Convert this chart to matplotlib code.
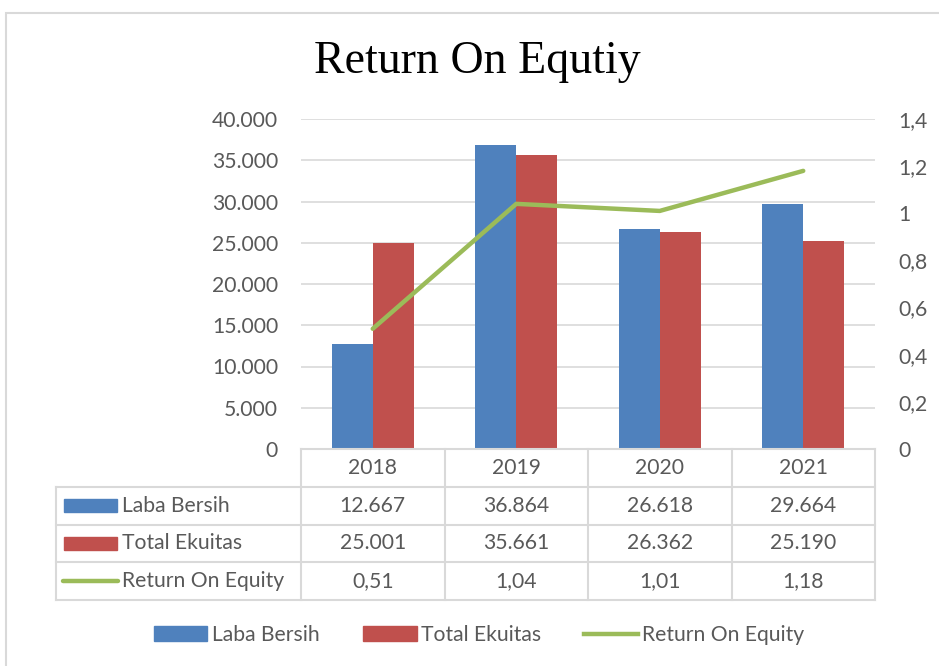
import matplotlib
matplotlib.use("Agg")
import matplotlib.pyplot as plt
from matplotlib.patches import Rectangle
from matplotlib.lines import Line2D
import numpy as np

years = ["2018", "2019", "2020", "2021"]
laba_bersih = [12667, 36864, 26618, 29664]
total_ekuitas = [25001, 35661, 26362, 25190]
roe = [0.51, 1.04, 1.01, 1.18]
laba_labels = ["12.667", "36.864", "26.618", "29.664"]
ekuitas_labels = ["25.001", "35.661", "26.362", "25.190"]
roe_labels = ["0,51", "1,04", "1,01", "1,18"]
left_ticks = [0, 5000, 10000, 15000, 20000, 25000, 30000, 35000, 40000]
left_tick_labels = ["0", "5.000", "10.000", "15.000", "20.000", "25.000", "30.000", "35.000", "40.000"]
right_ticks = [0, 0.2, 0.4, 0.6, 0.8, 1.0, 1.2, 1.4]
right_tick_labels = ["0", "0,2", "0,4", "0,6", "0,8", "1", "1,2", "1,4"]
series_names = ["Laba Bersih", "Total Ekuitas", "Return On Equity"]

BLUE = "#4F81BD"
RED = "#C0504D"
GREEN = "#9BBB59"
TXT = "#595959"
GRID = "#D9D9D9"
FONT = "Lato"
FS = 15.2

W, H = 939, 666
fig = plt.figure(figsize=(W / 100, H / 100), dpi=100)

def px_axes(x0, y0, x1, y1):
    return fig.add_axes([x0 / W, 1 - y1 / H, (x1 - x0) / W, (y1 - y0) / H])

# outer frame (right and bottom edges fall outside the image)
fig.patches.append(Rectangle((6 / W, -0.2), 1.2, 1.2 - 13 / H, transform=fig.transFigure,
                             fill=False, edgecolor=GRID, lw=1.5))

# main plot
ax = px_axes(301, 119, 875, 449)
x = np.arange(len(years))
bw = 0.286
ax.bar(x - bw / 2, laba_bersih, bw, color=BLUE, zorder=3)
ax.bar(x + bw / 2, total_ekuitas, bw, color=RED, zorder=3)
ax.set_xlim(-0.5, 3.5)
ax.set_ylim(0, 40000)
ax.set_yticks(left_ticks)
ax.set_yticklabels(left_tick_labels, fontfamily=FONT, fontsize=FS, color=TXT)
ax.set_xticks([])
ax.tick_params(axis="y", length=0, pad=16.5)
ax.grid(axis="y", color=GRID, lw=1.2, zorder=0)
for s in ax.spines.values():
    s.set_visible(False)

ax2 = ax.twinx()
ax2.plot(x, roe, color=GREEN, lw=3.2, solid_capstyle="round", zorder=4)
ax2.set_ylim(0, 1.4)
ax2.set_yticks(right_ticks)
ax2.set_yticklabels(right_tick_labels, fontfamily=FONT, fontsize=FS, color=TXT)
ax2.tick_params(axis="y", length=0, pad=17)
for s in ax2.spines.values():
    s.set_visible(False)

# data table
tax = px_axes(56, 449, 875, 600)
lab_w = 245 / 143.5
tax.set_xlim(-0.5 - lab_w, 3.5)
tax.set_ylim(4, 0)
tax.axis("off")
L = -0.5 - lab_w
lk = dict(color=GRID, lw=1.5, clip_on=False)
tax.plot([-0.5, 3.5], [0, 0], **lk)
for r in [1, 2, 3, 4]:
    tax.plot([L, 3.5], [r, r], **lk)
tax.plot([L, L], [1, 4], **lk)
for c in range(5):
    tax.plot([c - 0.5, c - 0.5], [0, 4], **lk)
tk = dict(fontfamily=FONT, fontsize=FS, color=TXT, ha="center", va="center")
for i, yv in enumerate(years):
    tax.text(i, 0.5, yv, **tk)
for row, labels in enumerate([laba_labels, ekuitas_labels, roe_labels], start=1):
    for i, t in enumerate(labels):
        tax.text(i, row + 0.5, t, **tk)
u = 1 / 143.5
kx0, kx1 = L + 8 * u, L + 61 * u
tax.add_patch(Rectangle((kx0, 1.5 - 0.18), kx1 - kx0, 0.36, color=BLUE, clip_on=False))
tax.add_patch(Rectangle((kx0, 2.5 - 0.18), kx1 - kx0, 0.36, color=RED, clip_on=False))
tax.plot([L + 7 * u, L + 62 * u], [3.5, 3.5], color=GREEN, lw=3.2, solid_capstyle="round", clip_on=False)
for row, name in enumerate(series_names, start=1):
    tax.text(L + 66 * u, row + 0.5, name, fontfamily=FONT, fontsize=FS, color=TXT, ha="left", va="center")

# bottom legend
handles = [Rectangle((0, 0), 1, 1, color=BLUE), Rectangle((0, 0), 1, 1, color=RED),
           Line2D([0], [0], color=GREEN, lw=3.2)]
leg = fig.legend(handles, series_names, loc="center", bbox_to_anchor=(479 / W, 1 - 635 / H),
                 ncol=3, frameon=False, handlelength=2.55, handleheight=0.7, handletextpad=0.2,
                 columnspacing=2.05, prop={"family": FONT, "size": FS})
for t in leg.get_texts():
    t.set_color(TXT)

# title
fig.text(477 / W, 1 - 62 / H, "Return On Equtiy", fontfamily="Liberation Serif", fontsize=33,
         ha="center", va="center", color="black")

fig.savefig("out.png", dpi=100)
